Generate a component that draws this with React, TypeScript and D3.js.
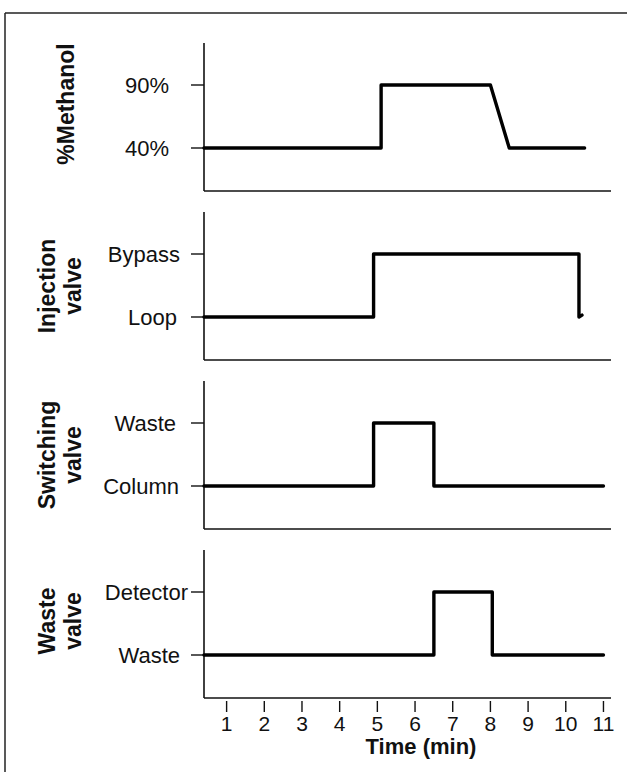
import React from 'react';
import * as d3 from 'd3';

// ---- data ----
const timeTicks = [1, 2, 3, 4, 5, 6, 7, 8, 9, 10, 11];
const timeDomain = [0.4, 11.2];

const methanolTimes = [0.4, 5.1, 5.1, 8.0, 8.5, 10.5];
const methanolPct = [40, 40, 90, 90, 40, 40];
const methanolLevels = [40, 90];
const methanolLabels = ['40%', '90%'];

const injectionTimes = [0.4, 4.9, 4.9, 10.35, 10.35, 10.43];
const injectionState = [0, 0, 1, 1, 0, 0.03];
const injectionLabels = ['Loop', 'Bypass'];

const switchingTimes = [0.4, 4.9, 4.9, 6.5, 6.5, 11.0];
const switchingState = [0, 0, 1, 1, 0, 0];
const switchingLabels = ['Column', 'Waste'];

const wasteTimes = [0.4, 6.5, 6.5, 8.05, 8.05, 11.0];
const wasteState = [0, 0, 1, 1, 0, 0];
const wasteLabels = ['Waste', 'Detector'];

const valveLevels = [0, 1];

const panelTitles = [['%Methanol'], ['Injection', 'valve'], ['Switching', 'valve'], ['Waste', 'valve']];
const xTitle = 'Time (min)';

// ---- layout ----
const W = 627;
const H = 772;
const X0 = 204;
const X1 = 611;
const TOP0 = 43;
const STEP = 169;
const PH = 148;
const HI_OFF = 42;
const LO_OFF = 105;
const FONT = '"Liberation Sans", Arial, Helvetica, sans-serif';

export default function App() {
  const x = d3.scaleLinear().domain(timeDomain).range([X0, X1]);

  const panels = [
    { times: methanolTimes, vals: methanolPct, levels: methanolLevels, labels: methanolLabels, labelEnd: [169, 169], titleShift: -13 },
    { times: injectionTimes, vals: injectionState, levels: valveLevels, labels: injectionLabels, labelEnd: [177, 180], titleShift: 0 },
    { times: switchingTimes, vals: switchingState, levels: valveLevels, labels: switchingLabels, labelEnd: [179, 176], titleShift: 0 },
    { times: wasteTimes, vals: wasteState, levels: valveLevels, labels: wasteLabels, labelEnd: [180, 188], titleShift: -3 },
  ];

  const lastBottom = TOP0 + 3 * STEP + PH;

  return (
    <svg
      width={W}
      height={H}
      viewBox={`0 0 ${W} ${H}`}
      style={{ position: 'absolute', left: 0, top: 0, background: '#fff' }}
      fontFamily={FONT}
    >
      <rect x={0} y={0} width={W} height={H} fill="#fff" />
      {/* outer frame */}
      <line x1={5} y1={13} x2={W} y2={13} stroke="#222" strokeWidth={1.5} />
      <line x1={5} y1={13} x2={5} y2={H} stroke="#222" strokeWidth={1.5} />

      {panels.map((p, i) => {
        const top = TOP0 + i * STEP;
        const bottom = top + PH;
        const y = d3
          .scaleLinear()
          .domain(p.levels)
          .range([top + LO_OFF, top + HI_OFF]);
        const line = d3
          .line<number>()
          .x((_, k) => x(p.times[k]))
          .y((v) => y(v));
        const cy = (top + bottom) / 2 + p.titleShift;
        const title = panelTitles[i];
        const titleX = title.length === 1 ? [66] : [47, 73];
        return (
          <g key={i}>
            {/* axes */}
            <line x1={X0} y1={top} x2={X0} y2={bottom} stroke="#111" strokeWidth={1.6} />
            <line x1={X0} y1={bottom} x2={X1} y2={bottom} stroke="#111" strokeWidth={1.6} />
            {p.levels.map((lv, k) => (
              <g key={k}>
                <line x1={X0 - 13} y1={y(lv)} x2={X0} y2={y(lv)} stroke="#111" strokeWidth={1.4} />
                <text
                  x={p.labelEnd[k]}
                  y={y(lv)}
                  dy="0.35em"
                  textAnchor="end"
                  fontSize={22}
                  fill="#111"
                >
                  {p.labels[k]}
                </text>
              </g>
            ))}
            {title.map((t, k) => (
              <text
                key={k}
                transform={`translate(${titleX[k]},${cy}) rotate(-90)`}
                textAnchor="middle"
                dy="0.35em"
                fontSize={23}
                fontWeight="bold"
                fill="#111"
              >
                {t}
              </text>
            ))}
            <path
              d={line(p.vals) || ''}
              fill="none"
              stroke="#000"
              strokeWidth={3.4}
              strokeLinejoin="round"
              strokeLinecap="round"
            />
          </g>
        );
      })}

      {/* x ticks (bottom panel only) */}
      {timeTicks.map((t) => (
        <g key={t}>
          <line x1={x(t)} y1={lastBottom + 3} x2={x(t)} y2={lastBottom + 14} stroke="#111" strokeWidth={1.4} />
          <text x={x(t)} y={lastBottom + 33} textAnchor="middle" fontSize={21} fill="#111">
            {t}
          </text>
        </g>
      ))}
      <text x={421} y={lastBottom + 56} textAnchor="middle" fontSize={22} fontWeight="bold" fill="#111">
        {xTitle}
      </text>
    </svg>
  );
}
